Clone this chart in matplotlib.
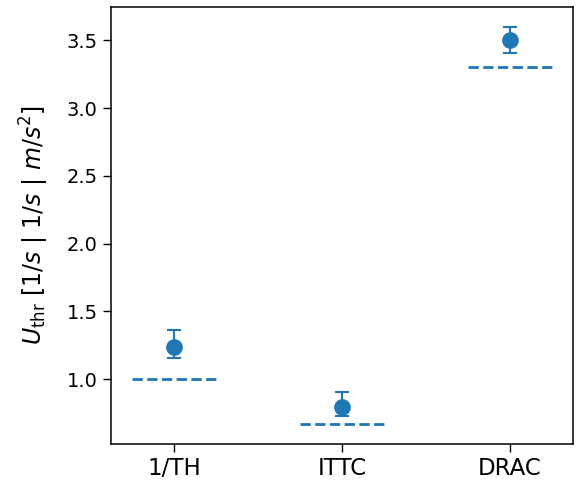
import numpy as np
import matplotlib.pyplot as plt

categories = ["1/TH", "ITTC", "DRAC"]
values = [1.235, 0.795, 3.50]
err_low = [0.08, 0.07, 0.09]
err_high = [0.125, 0.11, 0.10]
thresholds = [1.0, 0.667, 3.30]

fig, ax = plt.subplots(figsize=(5.8, 4.82), dpi=100)
fig.subplots_adjust(left=111 / 580, right=573 / 580, top=1 - 7 / 482, bottom=1 - 444 / 482)

x = np.arange(len(categories))
color = "#1f77b4"
ax.errorbar(x, values, yerr=[err_low, err_high], fmt="o", color=color,
            markersize=11, capsize=5, elinewidth=1.5, capthick=1.5)
ax.hlines(thresholds, x - 0.25, x + 0.25, colors=color, linestyles="--", linewidth=2)

ax.set_xticks(x)
ax.set_xticklabels(categories, fontsize=16.5)
ax.tick_params(axis="y", labelsize=14)
ax.tick_params(length=6, width=1)
for s in ax.spines.values():
    s.set_linewidth(1.1)
ax.set_ylabel(r"$U_{\mathrm{thr}}$ [$1/s$ | $1/s$ | $m/s^2$]", fontsize=17, labelpad=11)

plt.savefig("out.png")
